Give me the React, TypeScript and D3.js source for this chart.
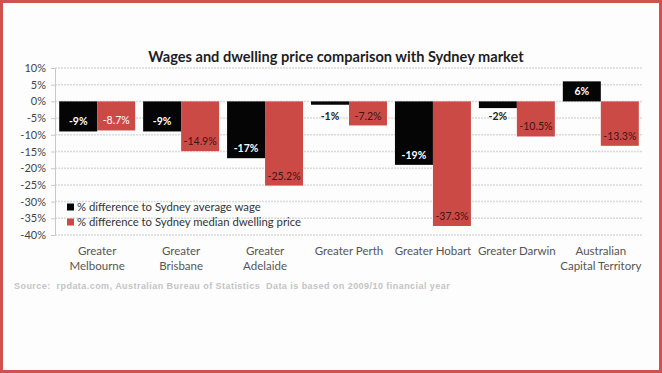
import * as d3 from 'd3';
import { useEffect, useRef } from 'react';

const categories = [
  ['Greater', 'Melbourne'],
  ['Greater', 'Brisbane'],
  ['Greater', 'Adelaide'],
  ['Greater Perth'],
  ['Greater Hobart'],
  ['Greater Darwin'],
  ['Australian', 'Capital Territory'],
];
const wageDiff = [-9, -9, -17, -1, -19, -2, 6];
const dwellingDiff = [-8.7, -14.9, -25.2, -7.2, -37.3, -10.5, -13.3];
const yTicks = [10, 5, 0, -5, -10, -15, -20, -25, -30, -35, -40];
const seriesNames = [
  '% difference to Sydney average wage',
  '% difference to Sydney median dwelling price',
];

const W = 662;
const H = 373;
const BLACK = '#050505';
const RED = '#cc4a46';
const FONT = 'Lato, "Open Sans", sans-serif';

export default function App() {
  const svgRef = useRef<SVGSVGElement | null>(null);

  useEffect(() => {
    if (!svgRef.current) return;
    const svg = d3.select(svgRef.current);
    svg.selectAll('*').remove();

    svg.append('rect').attr('width', W).attr('height', H).attr('fill', '#fdfdfd');
    svg
      .append('rect')
      .attr('x', 1.5)
      .attr('y', 1.5)
      .attr('width', W - 3)
      .attr('height', H - 3)
      .attr('fill', 'none')
      .attr('stroke', '#d0524e')
      .attr('stroke-width', 3);

    const keys = categories.map((c) => c.join(' '));
    const x = d3.scaleBand().domain(keys).range([55, 643]).paddingInner(0.095).paddingOuter(0.05);
    const xs = d3.scaleBand().domain(['wage', 'dwelling']).range([0, x.bandwidth()]);
    const y = d3.scaleLinear().domain([-40, 10]).range([235, 68]);

    // title
    svg
      .append('text')
      .attr('x', 336)
      .attr('y', 62)
      .attr('text-anchor', 'middle')
      .attr('font-family', FONT)
      .attr('font-weight', 'bold')
      .attr('font-size', 14.6)
      .attr('fill', '#1e1e1e')
      .text('Wages and dwelling price comparison with Sydney market');

    // gridlines
    svg
      .append('g')
      .selectAll('line')
      .data(yTicks)
      .enter()
      .append('line')
      .attr('x1', 55)
      .attr('x2', 643)
      .attr('y1', (d) => y(d))
      .attr('y2', (d) => y(d))
      .attr('stroke', '#dadada')
      .attr('stroke-width', 1.5)
      .attr('stroke-dasharray', '2,1');

    // y axis
    const yAxis = d3
      .axisLeft(y)
      .tickValues(yTicks)
      .tickSize(4)
      .tickFormat((d) => `${d}%`);
    const ya = svg.append('g').attr('transform', 'translate(55,0)').call(yAxis);
    ya.select('.domain').attr('stroke', '#c8c8c8');
    ya.selectAll('.tick line').attr('stroke', '#c8c8c8');
    ya.selectAll('.tick text')
      .attr('x', -9)
      .attr('font-family', FONT)
      .attr('font-size', 11)
      .attr('fill', '#444');

    const series = [
      { key: 'wage', values: wageDiff, color: BLACK },
      { key: 'dwelling', values: dwellingDiff, color: RED },
    ];

    series.forEach((s) => {
      const g = svg.append('g');
      g.selectAll('rect')
        .data(s.values)
        .enter()
        .append('rect')
        .attr('x', (_, i) => (x(keys[i]) as number) + (xs(s.key) as number))
        .attr('y', (d) => y(Math.max(0, d)))
        .attr('width', xs.bandwidth())
        .attr('height', (d) => Math.abs(y(d) - y(0)))
        .attr('fill', s.color);

      g.selectAll('text')
        .data(s.values)
        .enter()
        .append('text')
        .attr('x', (_, i) => (x(keys[i]) as number) + (xs(s.key) as number) + xs.bandwidth() / 2)
        .attr('y', (d) => {
          const end = y(d);
          const pos = d >= 0 ? end + 10 : Math.max(end - 10, y(0) + 15);
          return pos + 4;
        })
        .attr('text-anchor', 'middle')
        .attr('font-family', FONT)
        .attr('font-size', 10.5)
        .attr('font-weight', s.key === 'wage' ? 'bold' : 'normal')
        .attr('fill', (d, i) => {
          if (s.key === 'wage') return Math.abs(y(d) - y(0)) > 15 ? '#fff' : '#222';
          return i === 0 ? '#fff' : '#3a1616';
        })
        .text((d) => (s.key === 'wage' ? `${d}%` : `${d.toFixed(1)}%`));
    });

    // legend
    const legend = svg.append('g');
    seriesNames.forEach((name, i) => {
      const cy = 207 + i * 15;
      legend
        .append('rect')
        .attr('x', 67)
        .attr('y', cy - 3.5)
        .attr('width', 7)
        .attr('height', 7)
        .attr('fill', i === 0 ? BLACK : RED);
      legend
        .append('text')
        .attr('x', 77)
        .attr('y', cy + 4)
        .attr('font-family', FONT)
        .attr('font-size', 11.3)
        .attr('fill', '#333')
        .text(name);
    });

    // category labels
    const xl = svg.append('g');
    categories.forEach((lines, i) => {
      const cx = (x(keys[i]) as number) + x.bandwidth() / 2;
      lines.forEach((ln, j) => {
        xl.append('text')
          .attr('x', cx)
          .attr('y', 255 + j * 14.5)
          .attr('text-anchor', 'middle')
          .attr('font-family', FONT)
          .attr('font-size', 11.5)
          .attr('fill', '#555')
          .text(ln);
      });
    });

    // source
    svg
      .append('text')
      .attr('x', 14)
      .attr('y', 289)
      .attr('font-family', '"Liberation Sans", Arial, sans-serif')
      .attr('font-size', 9)
      .attr('font-weight', 'bold')
      .attr('letter-spacing', 0.45)
      .attr('fill', '#c4c4c4')
      .attr('xml:space', 'preserve')
      .style('white-space', 'pre')
      .text('Source:  rpdata.com, Australian Bureau of Statistics  Data is based on 2009/10 financial year');
  }, []);

  return (
    <svg
      ref={svgRef}
      width={W}
      height={H}
      style={{ position: 'fixed', top: 0, left: 0, display: 'block' }}
    ></svg>
  );
}
